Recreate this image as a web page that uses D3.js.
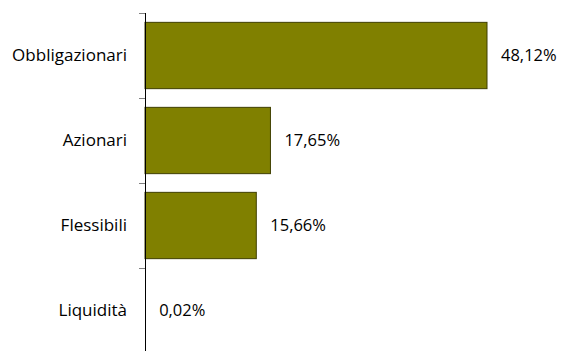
<!DOCTYPE html>
<html>
<head>
<meta charset="utf-8">
<script src="https://cdn.jsdelivr.net/npm/d3@7"></script>
<style>
  body { margin: 0; background: #fff; }
  svg { display: block; }
</style>
</head>
<body>
<div id="chart"></div>
<script>
// chart data
const categories = ["Obbligazionari", "Azionari", "Flessibili", "Liquidità"];
const values = [48.12, 17.65, 15.66, 0.02];
const valueLabels = ["48,12%", "17,65%", "15,66%", "0,02%"];

const width = 573, height = 351;
const font = "'Open Sans', sans-serif";

const svg = d3.select("#chart").append("svg")
    .attr("width", width)
    .attr("height", height);

// x: percent -> pixels (axis at x=145)
const x = d3.scaleLinear().domain([0, 48.12]).range([145, 487]);
const y = d3.scaleBand()
    .domain(categories)
    .range([13, 353])
    .paddingInner(0.22)
    .paddingOuter(0.11);

// bars (stroke only where the bar is wide enough to see)
svg.append("g")
    .selectAll("rect")
    .data(values)
    .join("rect")
    .attr("x", x(0))
    .attr("y", (d, i) => y(categories[i]))
    .attr("width", d => x(d) - x(0))
    .attr("height", y.bandwidth())
    .attr("fill", "#808000")
    .attr("stroke", d => x(d) - x(0) > 2 ? "#3f3f00" : "none")
    .attr("stroke-width", 1);

// value labels
svg.append("g")
    .selectAll("text")
    .data(values)
    .join("text")
    .attr("x", d => x(d) + 14)
    .attr("y", (d, i) => y(categories[i]) + y.bandwidth() / 2)
    .attr("dy", "0.35em")
    .attr("font-family", font)
    .attr("font-size", "16.5px")
    .attr("fill", "#000")
    .text((d, i) => valueLabels[i]);

// category axis: ticks at band boundaries
const step = y.step();
const boundaries = d3.range(categories.length + 1).map(i => 13 + i * step);
const axis = svg.append("g");
axis.append("line")
    .attr("x1", 145.5).attr("x2", 145.5)
    .attr("y1", 13).attr("y2", height)
    .attr("stroke", "#000");
axis.selectAll("line.tick")
    .data(boundaries)
    .join("line")
    .attr("class", "tick")
    .attr("x1", 139).attr("x2", 145)
    .attr("y1", d => Math.round(d) + 0.5)
    .attr("y2", d => Math.round(d) + 0.5)
    .attr("stroke", "#808080");

axis.selectAll("text")
    .data(categories)
    .join("text")
    .attr("x", 127)
    .attr("y", d => y(d) + y.bandwidth() / 2)
    .attr("dy", "0.35em")
    .attr("text-anchor", "end")
    .attr("font-family", font)
    .attr("font-size", "17px")
    .attr("fill", "#000")
    .text(d => d);
</script>
</body>
</html>
